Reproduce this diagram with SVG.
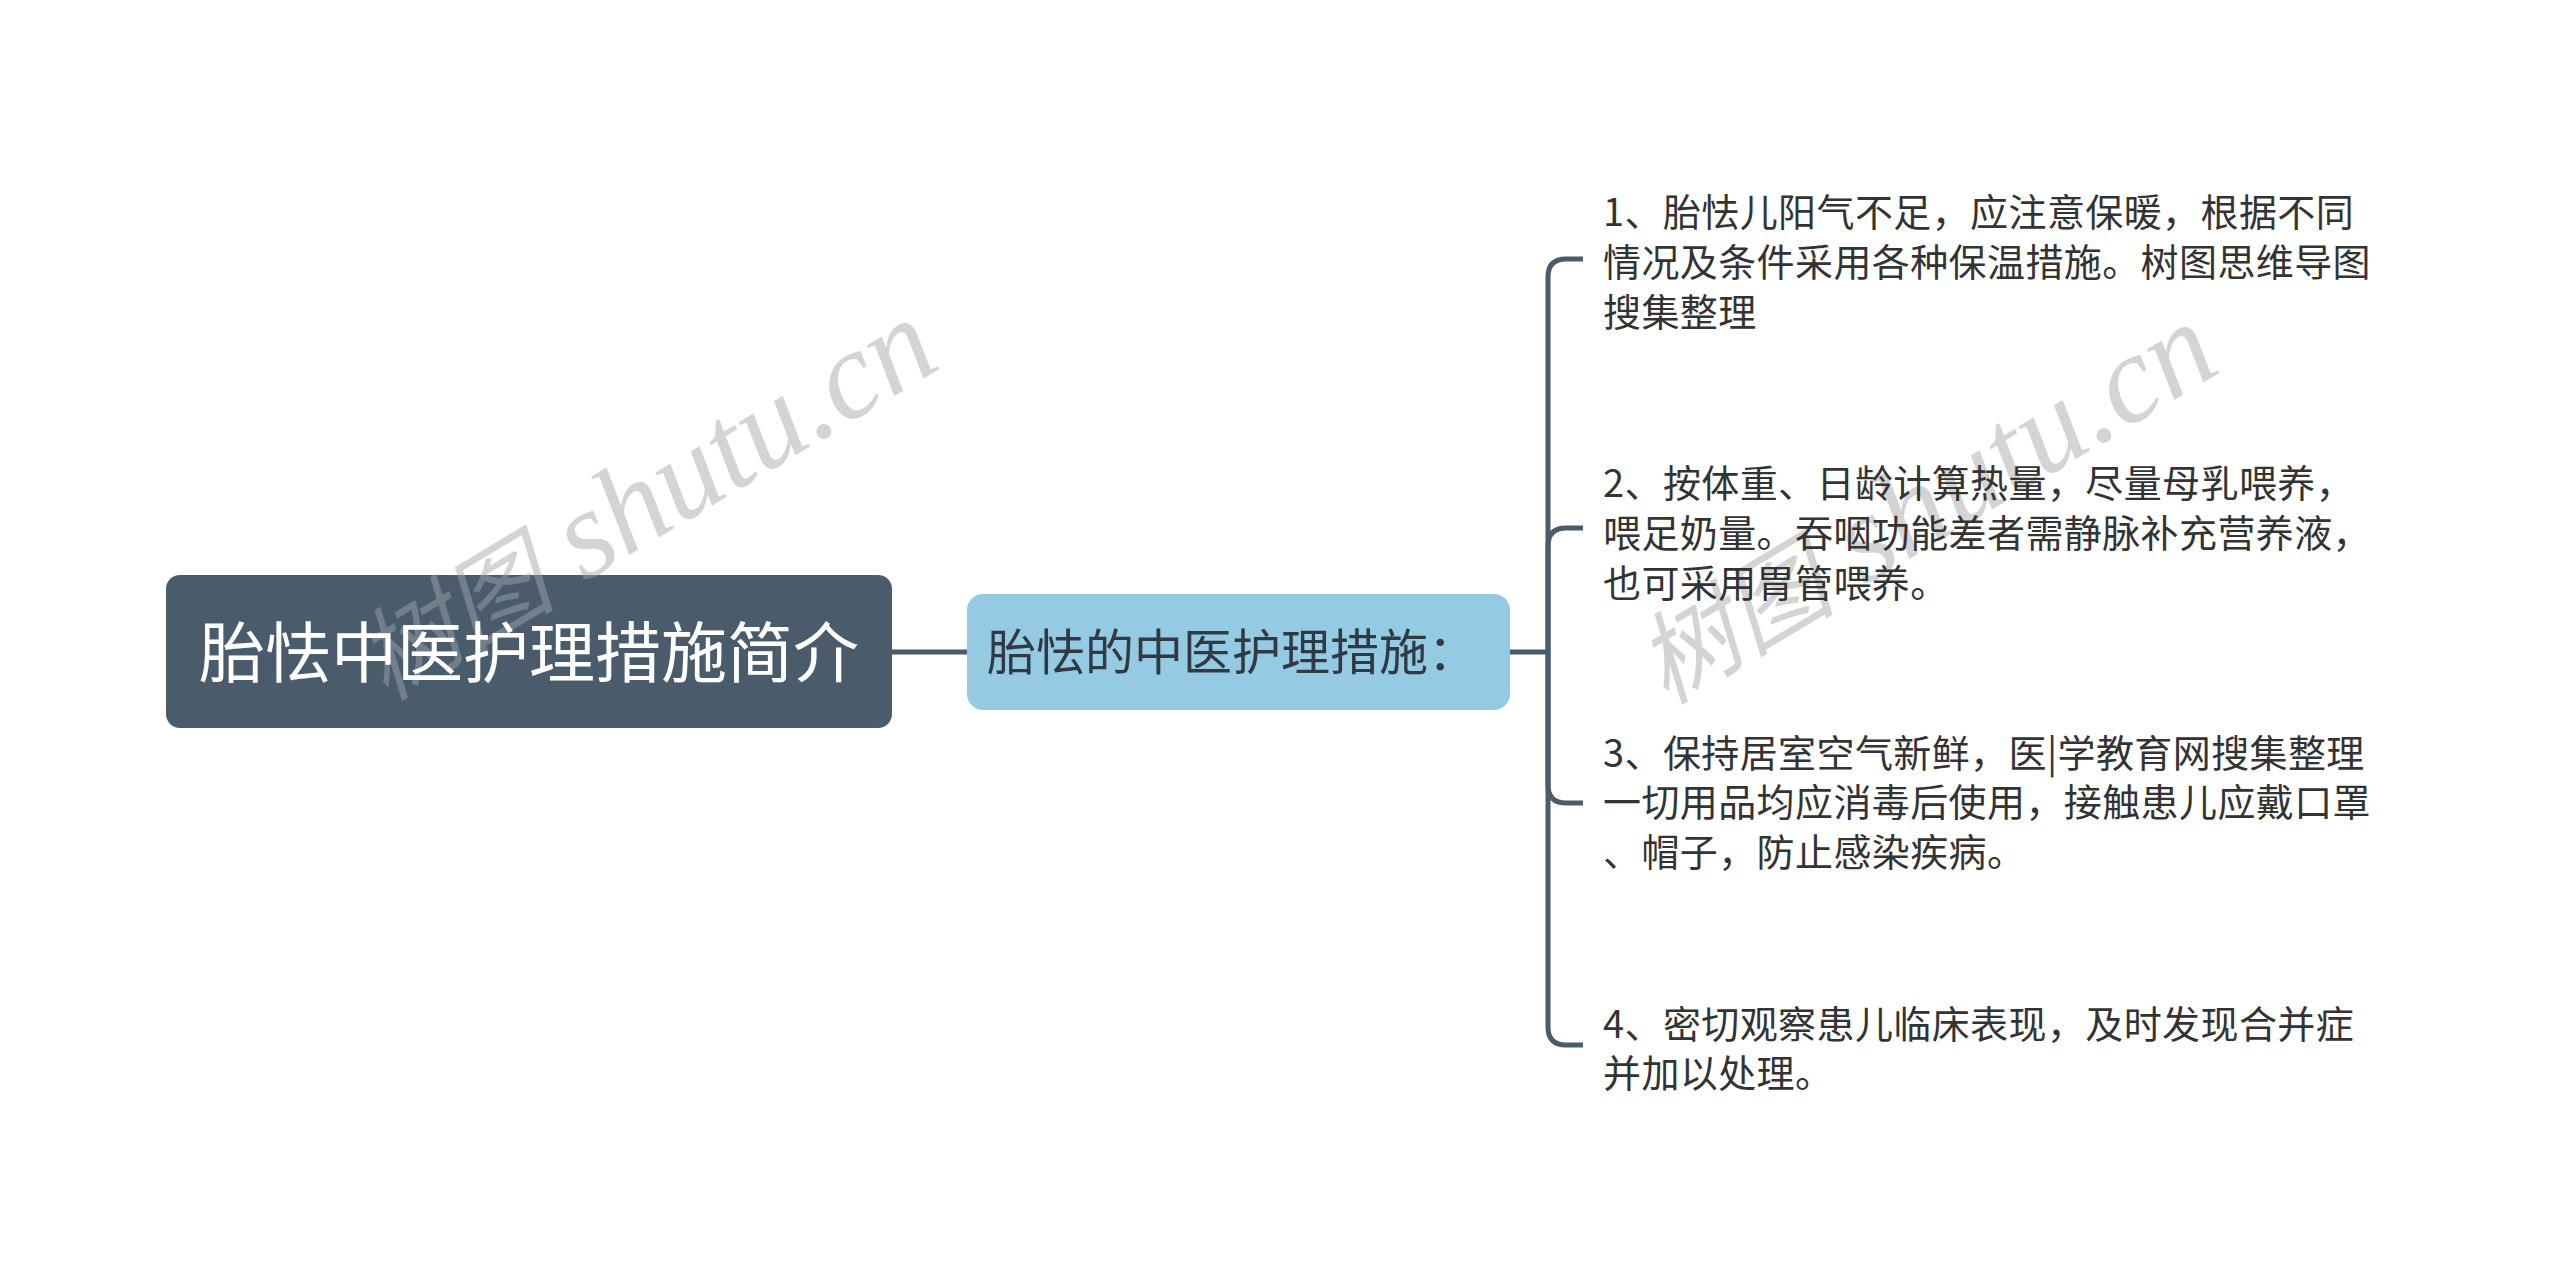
<svg xmlns="http://www.w3.org/2000/svg" width="2560" height="1280" viewBox="0 0 2560 1280">
<style>
.conn{fill:none;stroke:#4a5b6b;stroke-width:5;stroke-linecap:butt}
.leaf{font-family:"Noto Sans CJK SC","Noto Sans",sans-serif;font-size:38px;fill:#333333;letter-spacing:0.4px}
.wm{font-family:"Liberation Serif","Noto Sans CJK SC",serif;font-style:italic;font-size:125px}
.wmcjk{font-family:"Noto Sans CJK SC",sans-serif;font-size:100px}
</style>
<defs>
<text id="wmText" class="wm" text-anchor="end"><tspan class="wmcjk">树图</tspan> shutu.cn</text>
<clipPath id="rootClip"><rect x="166" y="575" width="726" height="153" rx="14"/></clipPath>
</defs>
<rect width="2560" height="1280" fill="#ffffff"/>
<g id="watermark" fill="#d4d4d4">
<use href="#wmText" transform="translate(944,366) rotate(-31)"/>
<use href="#wmText" transform="translate(2224,370) rotate(-31)"/>
</g>
<g id="connectors">
<path class="conn" d="M892,652 H968"/>
<path class="conn" d="M1509,652 H1548"/>
<path class="conn" d="M1548,652 V277 Q1548,259 1566,259 H1583"/>
<path class="conn" d="M1548,652 V546 Q1548,528 1566,528 H1583"/>
<path class="conn" d="M1548,652 V785 Q1548,803 1566,803 H1583"/>
<path class="conn" d="M1548,652 V1027 Q1548,1045 1566,1045 H1583"/>
</g>
<g id="root">
<rect x="166" y="575" width="726" height="153" rx="14" fill="#4a5c6c"/>
<g clip-path="url(#rootClip)">
<use href="#wmText" transform="translate(944,366) rotate(-31)" fill="#ffffff" fill-opacity="0.22"/>
</g>
<text x="529" y="677" text-anchor="middle" font-family="Noto Sans CJK SC, sans-serif" font-size="66" fill="#ffffff">胎怯中医护理措施简介</text>
</g>
<g id="main">
<rect x="967" y="594" width="543" height="116" rx="16" fill="#94cbe3"/>
<text x="987" y="670" font-family="Noto Sans CJK SC, sans-serif" font-size="49" fill="#2f3a44">胎怯的中医护理措施：</text>
</g>
<g id="leaf1">
<text class="leaf" x="1603" y="226">1、胎怯儿阳气不足，应注意保暖，根据不同</text>
<text class="leaf" x="1603" y="276">情况及条件采用各种保温措施。树图思维导图</text>
<text class="leaf" x="1603" y="326">搜集整理</text>
</g>
<g id="leaf2">
<text class="leaf" x="1603" y="497">2、按体重、日龄计算热量，尽量母乳喂养，</text>
<text class="leaf" x="1603" y="547">喂足奶量。吞咽功能差者需静脉补充营养液，</text>
<text class="leaf" x="1603" y="597">也可采用胃管喂养。</text>
</g>
<g id="leaf3">
<text class="leaf" x="1603" y="767">3、保持居室空气新鲜，医|学教育网搜集整理</text>
<text class="leaf" x="1603" y="816">一切用品均应消毒后使用，接触患儿应戴口罩</text>
<text class="leaf" x="1603" y="866">、帽子，防止感染疾病。</text>
</g>
<g id="leaf4">
<text class="leaf" x="1603" y="1038">4、密切观察患儿临床表现，及时发现合并症</text>
<text class="leaf" x="1603" y="1087">并加以处理。</text>
</g>
</svg>
